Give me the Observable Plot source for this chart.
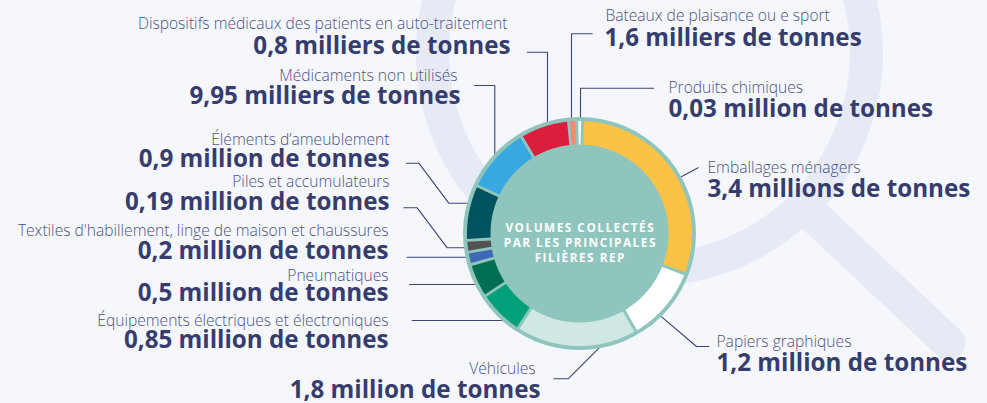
<!DOCTYPE html>
<html><head><meta charset="utf-8">
<script src="https://cdn.jsdelivr.net/npm/d3@7"></script>
<script src="https://cdn.jsdelivr.net/npm/@observablehq/plot@0.6"></script>
<style>
html,body{margin:0;padding:0;background:#F5F7FC;}
#chart svg{display:block;}
</style></head><body><div id="chart"></div>
<script>
// ---- data ----
const categories = [
  "Emballages ménagers",
  "Papiers graphiques",
  "Véhicules",
  "Équipements électriques et électroniques",
  "Pneumatiques",
  "Textiles d'habillement, linge de maison et chaussures",
  "Piles et accumulateurs",
  "Éléments d’ameublement",
  "Médicaments non utilisés",
  "Dispositifs médicaux des patients en auto-traitement",
  "Bateaux de plaisance ou e sport",
  "Produits chimiques"
];
const valueLabels = [
  "3,4 millions de tonnes",
  "1,2 million de tonnes",
  "1,8 million de tonnes",
  "0,85 million de tonnes",
  "0,5 million de tonnes",
  "0,2 million de tonnes",
  "0,19 million de tonnes",
  "0,9 million de tonnes",
  "9,95 milliers de tonnes",
  "0,8 milliers de tonnes",
  "1,6 milliers de tonnes",
  "0,03 million de tonnes"
];
// angular share of each slice in the ring (degrees, as drawn)
const arcDegrees = [109.4, 39, 63, 23.5, 17.5, 6.5, 6, 28.5, 34, 25.4, 4.2, 3.0];
const sliceColors = ["#FCC246", "#FFFFFF", "#CFE8E3", "#00A07B", "#006E50", "#3E69B5",
                     "#535353", "#00535F", "#37A9E0", "#DC1D3E", "#F28C69", "#F7F7F7"];
const centerTitle = ["VOLUMES COLLECTÉS", "PAR LES PRINCIPALES", "FILIÈRES REP"];

// ---- layout ----
const W = 987, H = 403;
const CX = 579, CY = 233;
const R_DISC = 116.5, R_OUT = 112.5, R_IN = 89, GAP = 1.45, START = 1.6;
const NAVY = "#363D6E", LIGHT = "#4B5282";
const BG = "#F5F7FC", RING = "#8FC5BD", LENS = "#E6EAF5";

// label placement: [x, anchor, nameBaseline, valueBaseline, valueX]
const labelPos = [
  [707, "start", 172, 196.7],
  [716, "start", 346.7, 370],
  [535, "end", 373, 397, 540],
  [388, "end", 325, 347.7],
  [388, "end", 280.7, 300.5],
  [388, "end", 235, 258.3],
  [389, "end", 186.7, 209.3],
  [389, "end", 144, 166.5],
  [457, "end", 80, 103.5, 460],
  [507, "end", 28.3, 53.5, 510],
  [605, "start", 20, 45, 604],
  [668, "start", 92.3, 116.7]
];
// leader routes: from label towards ring; end = "v" (straight down), "h" (straight across) or angle (deg)
const leaderRoute = [
  {via: [[697.7, 167.3]], end: 60.8},
  {via: [[708.3, 346], [696, 346]], end: 135.5},
  {via: [[553.3, 378.3], [567.7, 378.3]], end: 169.8},
  {via: [[411.7, 320]], end: "h"},
  {via: [[409, 284]], end: "h"},
  {via: [[406.7, 256.7]], end: "h"},
  {via: [[403.3, 207.3], [416.7, 207.3], [446.7, 247.3]], end: "h"},
  {via: [[406, 162.7], [418.3, 162.7], [448.3, 202.7]], end: "h"},
  {via: [[474, 85], [494.3, 85]], end: "v"},
  {via: [[526.7, 51.7], [547, 51.7]], end: "v"},
  {via: [[591.7, 33.3], [571, 33.3]], end: "v"},
  {via: [[653, 87.7], [580, 87.7]], end: "v"}
];

const rad = d => d * Math.PI / 180;

// slices
let acc = START;
const slices = categories.map((c, i) => {
  const a0 = acc; acc += arcDegrees[i];
  return {c, a0, a1: acc, color: sliceColors[i]};
});
function arcPoly(s) {
  const pts = [];
  const dO = GAP / R_OUT, dI = GAP / R_IN;
  const o0 = rad(s.a0) + dO, o1 = rad(s.a1) - dO;
  const i0 = rad(s.a0) + dI, i1 = rad(s.a1) - dI;
  const n = Math.max(2, Math.ceil((o1 - o0) / rad(0.5)));
  for (let k = 0; k <= n; k++) {
    const t = o0 + (o1 - o0) * k / n;
    pts.push({x: CX + R_OUT * Math.sin(t), y: CY - R_OUT * Math.cos(t)});
  }
  for (let k = n; k >= 0; k--) {
    const t = i0 + (i1 - i0) * k / n;
    pts.push({x: CX + R_IN * Math.sin(t), y: CY - R_IN * Math.cos(t)});
  }
  pts.push(pts[0]);
  return pts;
}

// leader lines
const R_LEAD = 115.5;
const leaderPts = [];
leaderRoute.forEach((r, i) => {
  r.via.forEach(([x, y]) => leaderPts.push({k: i, x, y}));
  const last = r.via[r.via.length - 1];
  let ex, ey;
  if (r.end === "v") { ex = last[0]; ey = CY - Math.sqrt(R_LEAD ** 2 - (ex - CX) ** 2); }
  else if (r.end === "h") { ey = last[1]; ex = CX - Math.sqrt(R_LEAD ** 2 - (ey - CY) ** 2); }
  else { ex = CX + R_LEAD * Math.sin(rad(r.end)); ey = CY - R_LEAD * Math.cos(rad(r.end)); }
  leaderPts.push({k: i, x: ex, y: ey});
});

const names = categories.map((c, i) => ({text: c, x: labelPos[i][0], y: labelPos[i][2], anchor: labelPos[i][1]}));
const values = valueLabels.map((v, i) => ({text: v, x: labelPos[i][4] ?? labelPos[i][0], y: labelPos[i][3], anchor: labelPos[i][1]}));
const centre = centerTitle.map((t, i) => ({text: t, x: CX + 0.8, y: 231 + i * 15}));

const nameStyle = {fontSize: 15.6, fontWeight: 300, fontFamily: "Open Sans", fill: LIGHT};
const valueStyle = {fontSize: 24.2, fontWeight: 700, fontFamily: "Open Sans", fill: NAVY};

const marks = [
  // magnifier decoration
  Plot.dot([{x: 649, y: 52}], {x: "x", y: "y", r: 217, fill: "none", stroke: LENS, strokeWidth: 33}),
  Plot.link([{x1: 802, y1: 205, x2: 948, y2: 342}], {x1: "x1", y1: "y1", x2: "x2", y2: "y2", stroke: LENS, strokeWidth: 34, strokeLinecap: "round"}),
  // leaders
  Plot.line(leaderPts, {x: "x", y: "y", z: "k", stroke: "#3C4375", strokeWidth: 1.1, strokeLinejoin: "miter"}),
  // disc
  Plot.dot([{x: CX, y: CY}], {x: "x", y: "y", r: R_DISC, fill: RING, stroke: "none"}),
  ...slices.map(s => Plot.line(arcPoly(s), {x: "x", y: "y", fill: s.color, stroke: "none"})),
  // texts
  Plot.text(names.filter(d => d.anchor === "end"), {x: "x", y: "y", text: "text", textAnchor: "end", lineAnchor: "bottom", ...nameStyle}),
  Plot.text(names.filter(d => d.anchor === "start"), {x: "x", y: "y", text: "text", textAnchor: "start", lineAnchor: "bottom", ...nameStyle}),
  Plot.text(values.filter(d => d.anchor === "end"), {x: "x", y: "y", text: "text", textAnchor: "end", lineAnchor: "bottom", ...valueStyle}),
  Plot.text(values.filter(d => d.anchor === "start"), {x: "x", y: "y", text: "text", textAnchor: "start", lineAnchor: "bottom", ...valueStyle}),
  Plot.text(centre, {x: "x", y: "y", text: "text", textAnchor: "middle", lineAnchor: "bottom", fontSize: 11.8, fontWeight: 700, fontFamily: "Open Sans", fill: "#FFFFFF"})
];

const chart = Plot.plot({
  width: W, height: H, margin: 0,
  x: {domain: [0, W], range: [0, W], axis: null},
  y: {domain: [0, H], range: [0, H], axis: null},
  style: {background: BG, overflow: "visible"},
  marks
});
d3.select(chart).selectAll("text")
  .filter(function() { return centerTitle.includes(this.textContent); })
  .style("letter-spacing", "1.5px");
document.getElementById("chart").appendChild(chart);
</script></body></html>
